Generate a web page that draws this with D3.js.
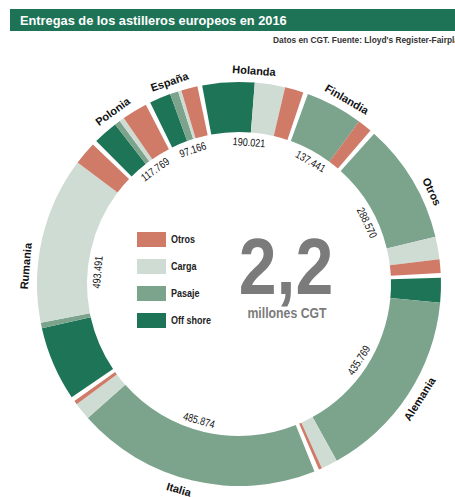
<!DOCTYPE html>
<html><head><meta charset="utf-8">
<script src="https://cdn.jsdelivr.net/npm/d3@7"></script>
<style>
html,body{margin:0;padding:0;background:#fff;}
svg{display:block;}
</style></head>
<body>
<svg id="chart" width="455" height="497"></svg>
<script>
// ---- data ----
const countries = ["Holanda","Finlandia","Otros","Alemania","Italia","Rumania","Polonia","España"];
const totals    = [190021, 137441, 288570, 435769, 485874, 493491, 117769, 97166];
const types     = ["Off shore","Pasaje","Carga","Otros"];
const offshore  = [98000,      0,      0,  45000,      0, 136000, 48000, 42000];
const pasaje    = [    0, 110000, 222000, 355000, 447000,  10000, 11000, 16500];
const carga     = [57000,      0,  41500,  30000,  32000, 305000,  9500,  6500];
const otros     = [35021,  27441,  25070,   5769,   6874,  42491, 49269, 32166];
const legendOrder = ["Otros","Carga","Pasaje","Off shore"];
const title = "Entregas de los astilleros europeos en 2016";
const subtitle = "Datos en CGT. Fuente: Lloyd's Register-Fairplay";
const bigNumber = "2,2";
const bigUnit = "millones CGT";

const colors = {"Otros":"#d07a68","Carga":"#cfdcd3","Pasaje":"#7ca48d","Off shore":"#1e7456"};
const seriesByType = {"Off shore":offshore,"Pasaje":pasaje,"Carga":carga,"Otros":otros};
const SANS = "Liberation Sans, Arial, Helvetica, sans-serif";
const NARROW = 0.82;

const svg = d3.select("#chart");
const W = 455, H = 497;
svg.append("rect").attr("width",W).attr("height",H).attr("fill","#fff");

// header
svg.append("rect").attr("x",10).attr("y",9).attr("width",W-10).attr("height",22).attr("fill","#1e7356");
svg.append("text").attr("x",20).attr("y",25).text(title)
  .attr("fill","#fff").attr("font-family",SANS)
  .attr("font-weight","bold").attr("font-size","12.8px");
svg.append("text").attr("transform","translate(273,43) scale(0.97,1)").text(subtitle)
  .attr("fill","#333").attr("font-family",SANS)
  .attr("font-weight","bold").attr("font-size","8.6px");

// donut
const cx = 239, cy = 284, R = 202, r = 152;
const start = -11.2 * Math.PI/180;
const pad = 0.024;
const data = countries.map((c,i)=>({country:c,total:totals[i],i}));
const pie = d3.pie().sort(null).value(d=>d.total).startAngle(start).endAngle(start+2*Math.PI);
const arcs = pie(data);
const arcGen = d3.arc().innerRadius(r).outerRadius(R);
const g = svg.append("g").attr("transform",`translate(${cx},${cy})`);

arcs.forEach(a=>{
  const i = a.data.i;
  const ang = d3.scaleLinear().domain([0,a.data.total]).range([a.startAngle+pad/2, a.endAngle-pad/2]);
  let cum = 0;
  types.forEach(t=>{
    const v = seriesByType[t][i];
    if(v<=0) return;
    g.append("path")
      .attr("d", arcGen({startAngle:ang(cum), endAngle:ang(cum+v)}))
      .attr("fill", colors[t]);
    cum += v;
  });
});

const fmt = d3.formatLocale({decimal:",",thousands:".",grouping:[3],currency:["",""]}).format(",");
function place(a, rad, sx){
  const m = (a.startAngle+a.endAngle)/2;
  let deg = ((m*180/Math.PI)%360+360)%360;
  let rot = (deg>90 && deg<270) ? deg-180 : (deg>=270 ? deg-360 : deg);
  const x = rad*Math.sin(m), y = -rad*Math.cos(m);
  return `translate(${x},${y}) rotate(${rot}) scale(${sx},1)`;
}
arcs.forEach(a=>{
  g.append("text").attr("transform",place(a,214,1)).text(a.data.country)
    .attr("text-anchor","middle").attr("dominant-baseline","central")
    .attr("font-family",SANS).attr("font-weight","bold")
    .attr("font-size","11px").attr("fill","#111");
  g.append("text").attr("transform",place(a,142,NARROW)).text(fmt(a.data.total))
    .attr("text-anchor","middle").attr("dominant-baseline","central")
    .attr("font-family",SANS)
    .attr("font-size","11px").attr("fill","#111");
});

// legend
const leg = svg.append("g");
legendOrder.forEach((t,k)=>{
  const y = 232 + k*27;
  leg.append("rect").attr("x",137).attr("y",y).attr("width",29).attr("height",15).attr("fill",colors[t]);
  leg.append("text").attr("transform",`translate(171,${y+7.5}) scale(${NARROW},1)`).text(t)
    .attr("dominant-baseline","central")
    .attr("font-family",SANS)
    .attr("font-weight","bold").attr("font-size","11px").attr("fill","#222");
});

// central number
svg.append("text").attr("transform","translate(286,294) scale(0.85,1)").text(bigNumber).attr("text-anchor","middle")
  .attr("font-family",SANS)
  .attr("font-weight","bold").attr("font-size","80px").attr("fill","#7b7b7b");
svg.append("text").attr("transform",`translate(287,318) scale(${NARROW},1)`).text(bigUnit).attr("text-anchor","middle")
  .attr("font-family",SANS)
  .attr("font-weight","bold").attr("font-size","15px").attr("fill","#7b7b7b");
</script>
</body></html>
